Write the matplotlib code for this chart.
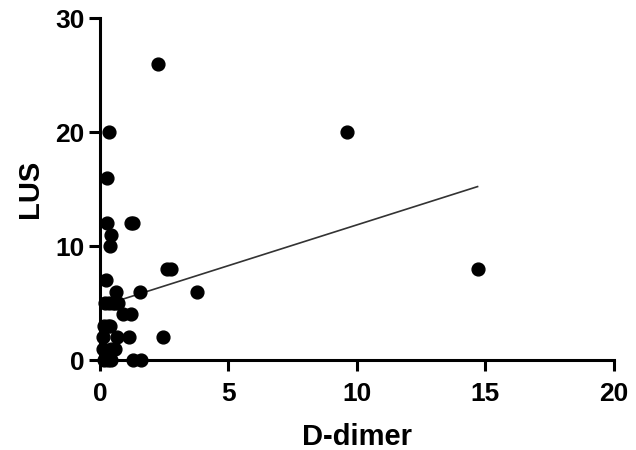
import matplotlib
matplotlib.use('Agg')
import matplotlib.pyplot as plt
import numpy as np

plt.rcParams['font.family'] = ['Liberation Sans', 'DejaVu Sans']

# D-dimer vs LUS
d_dimer = [0.36, 0.26, 0.26, 1.2, 1.3, 0.45, 0.39, 2.6, 2.75, 0.23,
           0.62, 1.58, 3.79, 0.2, 0.35, 0.5, 0.6, 0.7, 0.91, 1.23,
           0.18, 0.3, 0.4, 0.13, 0.65, 1.14, 2.46, 0.13, 0.45, 0.58,
           0.15, 0.3, 0.45, 1.3, 1.62, 2.26, 9.6, 14.7]
lus = [20, 16, 12, 12, 12, 11, 10, 8, 8, 7,
       6, 6, 6, 5, 5, 5, 5, 5, 4, 4,
       3, 3, 3, 2, 2, 2, 2, 1, 1, 1,
       0, 0, 0, 0, 0, 26, 20, 8]

fit_slope = 0.715
fit_intercept = 4.70
fit_range = [0.78, 14.7]

fig = plt.figure(figsize=(6.36, 4.5), dpi=100)
ax = fig.add_axes([0.157, 0.2, 0.808, 0.76])

ax.scatter(d_dimer, lus, s=85, color='black', zorder=3, clip_on=False)
xf = np.array(fit_range)
ax.plot(xf, fit_slope * xf + fit_intercept, color='#333333', linewidth=1.2, zorder=2)

ax.set_xlim(0, 20)
ax.set_ylim(0, 30)
ax.set_xticks([0, 5, 10, 15, 20])
ax.set_yticks([0, 10, 20, 30])

for side in ['top', 'right']:
    ax.spines[side].set_visible(False)
for side in ['left', 'bottom']:
    ax.spines[side].set_linewidth(2.2)

ax.tick_params(axis='both', width=2.2, length=8, labelsize=19)
ax.tick_params(axis='x', pad=8)
ax.tick_params(axis='y', pad=3)
for lab in ax.get_xticklabels() + ax.get_yticklabels():
    lab.set_fontweight('bold')

ax.set_xlabel('D-dimer', fontsize=21, fontweight='bold', labelpad=12)
ax.set_ylabel('LUS', fontsize=21, fontweight='bold', labelpad=8)

fig.savefig('out.png', dpi=100)
